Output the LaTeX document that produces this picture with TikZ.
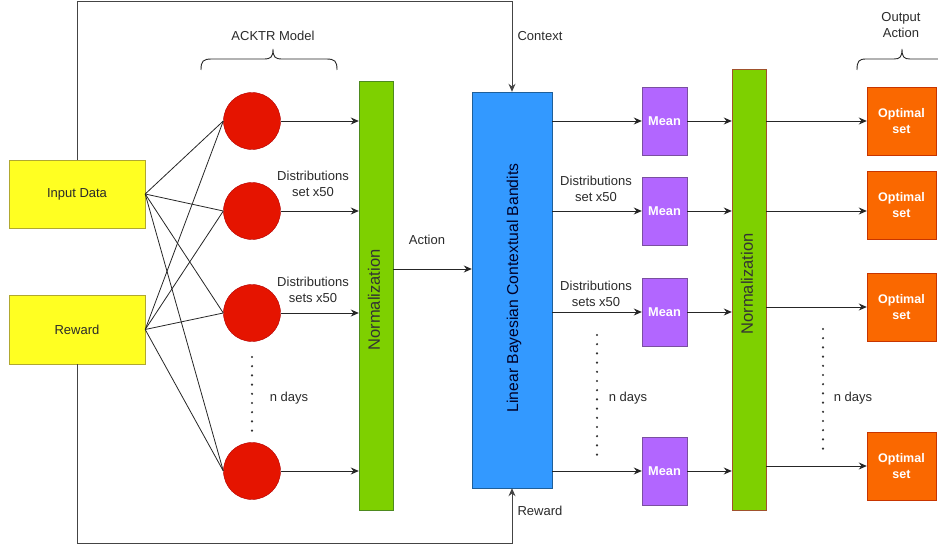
\documentclass[tikz,border=0pt]{standalone}
\usepackage{fontspec}
\setmainfont{Liberation Sans}
\usetikzlibrary{arrows.meta,calc}
\definecolor{yel}{HTML}{FFFF22}
\definecolor{yelb}{HTML}{B0A830}
\definecolor{redf}{HTML}{E51400}
\definecolor{redb}{HTML}{B20000}
\definecolor{grn}{HTML}{7ED000}
\definecolor{grnb}{HTML}{4D8A1F}
\definecolor{brn}{HTML}{A0522D}
\definecolor{blu}{HTML}{3399FF}
\definecolor{blub}{HTML}{1F5F99}
\definecolor{pur}{HTML}{B266FF}
\definecolor{purb}{HTML}{7A4FA0}
\definecolor{org}{HTML}{FA6800}
\definecolor{orgb}{HTML}{C73500}
\definecolor{txt}{HTML}{2A2A2A}
\definecolor{loopc}{HTML}{444444}
\begin{document}
\begin{tikzpicture}[x=1pt,y=-1pt,
  lbl/.style={font=\fontsize{13}{16}\selectfont, text=txt, align=center, inner sep=0pt},
  inbox/.style={draw=yelb, fill=yel, minimum width=136pt, minimum height=68pt, inner sep=0pt, font=\fontsize{13}{15}\selectfont, text=txt},
  neuron/.style={circle, draw=redb, fill=redf, minimum size=57pt, inner sep=0pt},
  normbar/.style={fill=grn, minimum width=34pt, inner sep=0pt},
  meanbox/.style={draw=purb, fill=pur, minimum width=45pt, minimum height=68pt, inner sep=0pt, text=white, font=\bfseries\fontsize{12.8}{15}\selectfont},
  optbox/.style={draw=orgb, fill=org, minimum width=69pt, minimum height=68pt, inner sep=0pt, text=white, align=center, font=\bfseries\fontsize{12.5}{16}\selectfont},
  arr/.style={-{Stealth[length=8pt,width=7pt]}, line width=0.9pt, draw=black!85},
  wire/.style={line width=0.8pt, draw=black!85},
  loopline/.style={-{Stealth[length=8pt,width=7pt]}, line width=1pt, draw=loopc},
  dotcol/.style={line width=2.4pt, line cap=round, dash pattern=on 0pt off 9.2pt, draw=black!80},
  brc/.style={line width=0.9pt, draw=black!85}
]
\useasboundingbox (0,0) rectangle (938,545);
\clip (0,0) rectangle (938,545);

% input boxes
\node[inbox] (in) at (77,194) {Input Data};
\node[inbox, minimum height=69pt] (rw) at (77,329.5) {Reward};

% neurons
\node[neuron] (c1) at (252,121) {};
\node[neuron] (c2) at (252,211) {};
\node[neuron] (c3) at (252,313) {};
\node[neuron] (c4) at (252,471) {};

% normalization 1
\node[normbar, draw=grnb, minimum height=429pt] (n1) at (376,295.5) {};
\node[rotate=90, font=\fontsize{16.5}{18}\selectfont, text=black!80, inner sep=0pt] at (374,300) {Normalization};

% Bayesian box
\node[draw=blub, fill=blu, minimum width=80pt, minimum height=396pt, inner sep=0pt] (bb) at (512,290) {};
\node[rotate=90, font=\fontsize{15.7}{18}\selectfont, text=black!85!blue, inner sep=0pt] at (514,288) {Linear Bayesian Contextual Bandits};

% mean boxes
\node[meanbox] (m1) at (664.5,121) {Mean};
\node[meanbox] (m2) at (664.5,211) {Mean};
\node[meanbox] (m3) at (664.5,312) {Mean};
\node[meanbox] (m4) at (664.5,471) {Mean};

% normalization 2
\node[normbar, draw=brn, minimum height=441pt] (n2) at (749,289.5) {};
\node[rotate=90, font=\fontsize{16.5}{18}\selectfont, text=black!80, inner sep=0pt] at (747,284) {Normalization};

% optimal sets
\node[optbox] (o1) at (901.5,121) {Optimal\\set};
\node[optbox] (o2) at (901.5,205) {Optimal\\set};
\node[optbox] (o3) at (901.5,307) {Optimal\\set};
\node[optbox] (o4) at (901.5,466) {Optimal\\set};

% wires input -> neurons
\foreach \c in {c1,c2,c3,c4}{
  \draw[wire] (in.east) -- (\c.west);
  \draw[wire] (rw.east) -- (\c.west);
}

% neurons -> normalization
\foreach \c in {c1,c2,c3,c4}{
  \draw[arr] (\c.east) -- (\c.east -| n1.west);
}

% action
\draw[arr] ([yshift=26.5pt]n1.east) -- ([yshift=26.5pt]n1.east -| bb.west);

% loops
\coordinate (topy) at (77,2);
\coordinate (boty) at (77,543.5);
\draw[loopline] (in.north) -- (topy) -| (bb.north);
\draw[loopline] (rw.south) -- (boty) -| (bb.south);

% bayes -> means
\foreach \m in {m1,m2,m3,m4}{
  \draw[arr] (bb.east |- \m.west) -- (\m.west);
  \draw[arr] (\m.east) -- (\m.east -| n2.west);
}

% norm2 -> optimal
\draw[arr] (n2.east |- o1.west) -- (o1.west);
\draw[arr] (n2.east |- m2.west) -- (o2.west |- m2.west);
\draw[arr] (n2.east |- o3.west) -- (o3.west);
\draw[arr] (n2.east |- o4.west) -- (o4.west);

% labels
\node[lbl] (lacktr) at (273,36) {ACKTR Model};
\node[lbl] (ld1) at (313,184) {Distributions\\set x50};
\node[lbl] (ld2) at (313,289.5) {Distributions\\sets x50};
\node[lbl] (lnd1) at (289,398) {n days};
\node[lbl] (lact) at (427,240) {Action};
\node[lbl] (lctx) at (540,36) {Context};
\node[lbl] (lrw) at (540,511) {Reward};
\node[lbl] (ld3) at (596,189) {Distributions\\set x50};
\node[lbl] (ld4) at (596,294) {Distributions\\sets x50};
\node[lbl] (lnd2) at (628,398) {n days};
\node[lbl] (lnd3) at (853,398) {n days};
\node[lbl] (lout) at (901,25) {Output\\Action};

% dots
\draw[dotcol] (252,357) -- (252,434);
\draw[dotcol] (597,335) -- (597,455);
\draw[dotcol] (823,329) -- (823,449);

% braces
\draw[brc] (201,70) .. controls (201,61) and (203,59) .. (212,59) -- (264,59)
  .. controls (271,59) and (273,57) .. (273,49)
  .. controls (273,57) and (275,59) .. (282,59) -- (326,59)
  .. controls (335,59) and (337,61) .. (337,70);
\draw[brc] (857,70) .. controls (857,61) and (859,59) .. (866,59) -- (894,59)
  .. controls (900,59) and (902,57) .. (902,49)
  .. controls (902,57) and (904,59) .. (910,59) -- (938,59) -- (945,59);
\end{tikzpicture}
\end{document}
